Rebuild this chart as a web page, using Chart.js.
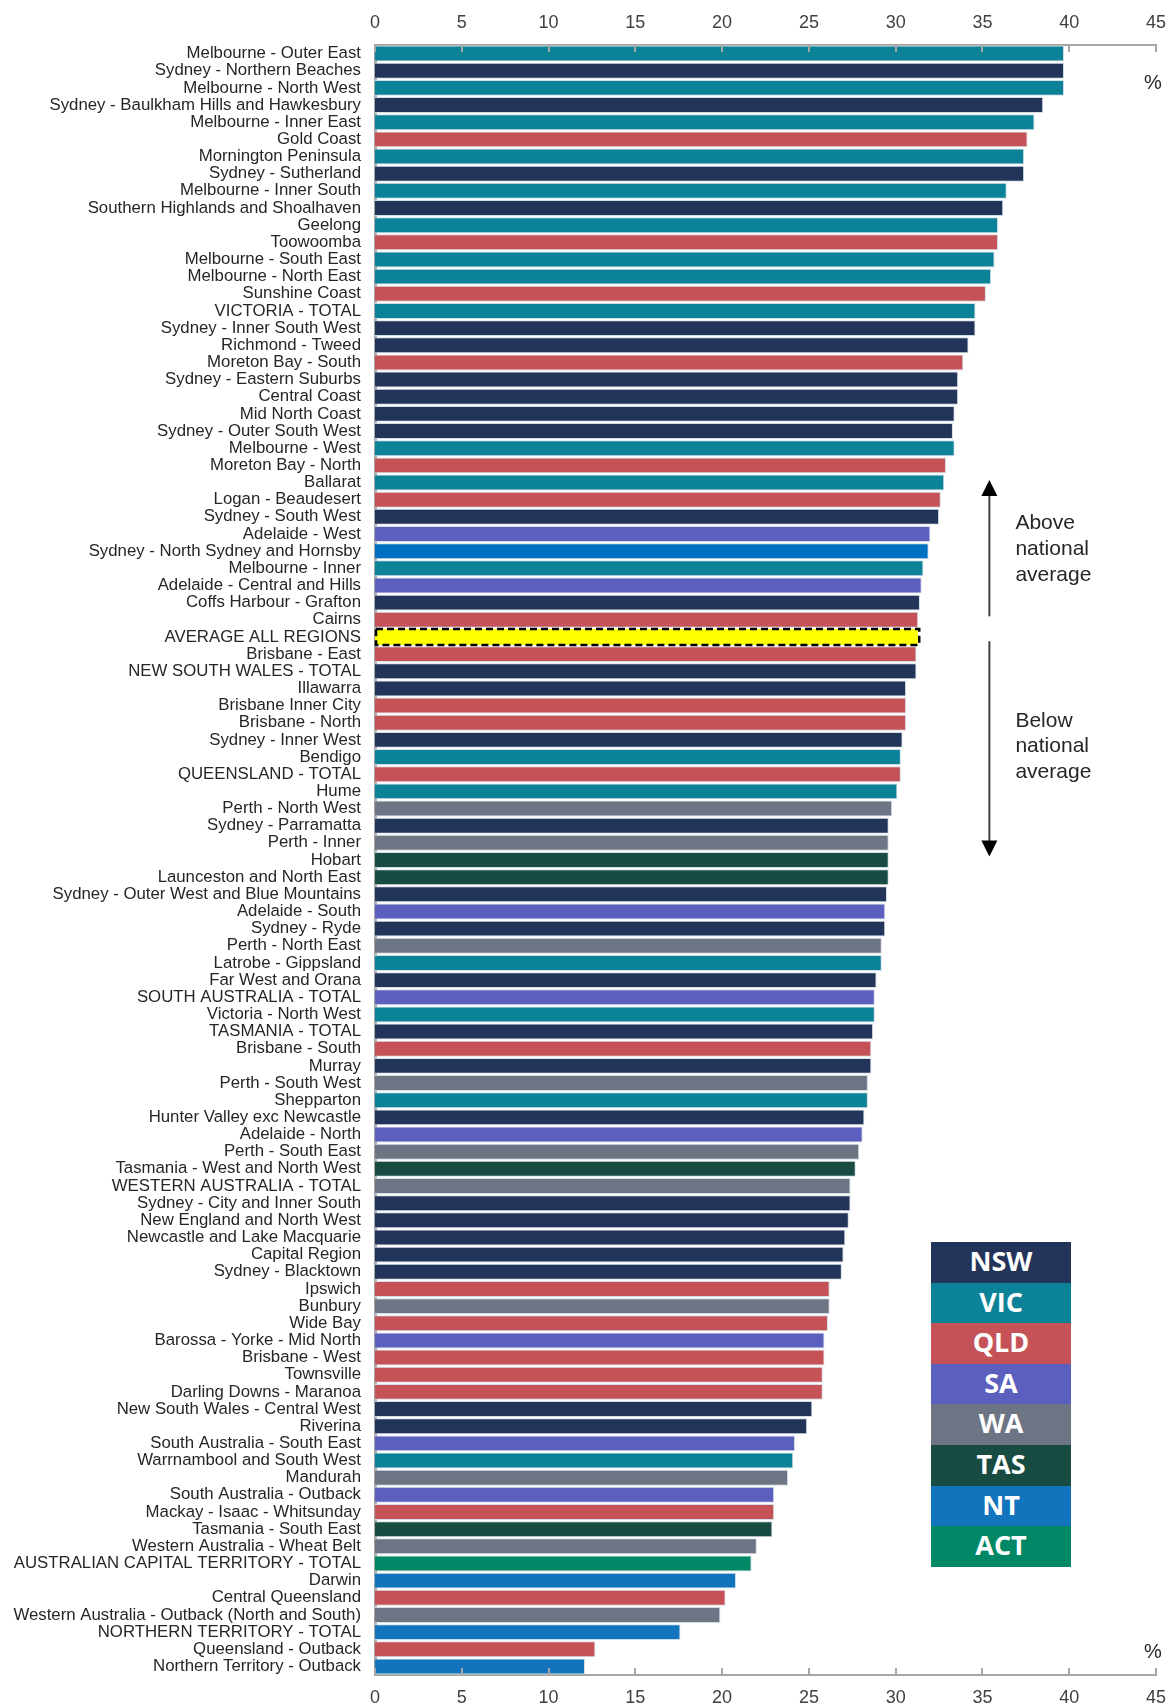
<!DOCTYPE html>
<html>
<head>
<meta charset="utf-8">
<script src="https://cdn.jsdelivr.net/npm/chart.js@4.4.1/dist/chart.umd.min.js"></script>
<style>
  html, body { margin: 0; padding: 0; background: #fff; }
  #wrap { position: relative; width: 1174px; height: 1706px; }
  #legend { position: absolute; left: 931px; top: 1242px; width: 140px; }
  .lg { height: 40.6px; line-height: 40.6px; text-align: center; color: #fff;
        font: bold 27px 'Open Sans', sans-serif; }
</style>
</head>
<body>
<div id="wrap">
  <canvas id="chart"></canvas>
  <div id="legend"></div>
</div>
<script>
// ---- data (%) ----
const regions = [
  'Melbourne - Outer East', 'Sydney - Northern Beaches', 'Melbourne - North West',
  'Sydney - Baulkham Hills and Hawkesbury', 'Melbourne - Inner East', 'Gold Coast',
  'Mornington Peninsula', 'Sydney - Sutherland', 'Melbourne - Inner South',
  'Southern Highlands and Shoalhaven', 'Geelong', 'Toowoomba', 'Melbourne - South East',
  'Melbourne - North East', 'Sunshine Coast', 'VICTORIA - TOTAL', 'Sydney - Inner South West',
  'Richmond - Tweed', 'Moreton Bay - South', 'Sydney - Eastern Suburbs', 'Central Coast',
  'Mid North Coast', 'Sydney - Outer South West', 'Melbourne - West', 'Moreton Bay - North',
  'Ballarat', 'Logan - Beaudesert', 'Sydney - South West', 'Adelaide - West',
  'Sydney - North Sydney and Hornsby', 'Melbourne - Inner', 'Adelaide - Central and Hills',
  'Coffs Harbour - Grafton', 'Cairns', 'AVERAGE ALL REGIONS', 'Brisbane - East',
  'NEW SOUTH WALES - TOTAL', 'Illawarra', 'Brisbane Inner City', 'Brisbane - North',
  'Sydney - Inner West', 'Bendigo', 'QUEENSLAND - TOTAL', 'Hume', 'Perth - North West',
  'Sydney - Parramatta', 'Perth - Inner', 'Hobart', 'Launceston and North East',
  'Sydney - Outer West and Blue Mountains', 'Adelaide - South', 'Sydney - Ryde',
  'Perth - North East', 'Latrobe - Gippsland', 'Far West and Orana', 'SOUTH AUSTRALIA - TOTAL',
  'Victoria - North West', 'TASMANIA - TOTAL', 'Brisbane - South', 'Murray',
  'Perth - South West', 'Shepparton', 'Hunter Valley exc Newcastle', 'Adelaide - North',
  'Perth - South East', 'Tasmania - West and North West', 'WESTERN AUSTRALIA - TOTAL',
  'Sydney - City and Inner South', 'New England and North West', 'Newcastle and Lake Macquarie',
  'Capital Region', 'Sydney - Blacktown', 'Ipswich', 'Bunbury', 'Wide Bay',
  'Barossa - Yorke - Mid North', 'Brisbane - West', 'Townsville', 'Darling Downs - Maranoa',
  'New South Wales - Central West', 'Riverina', 'South Australia - South East',
  'Warrnambool and South West', 'Mandurah', 'South Australia - Outback',
  'Mackay - Isaac - Whitsunday', 'Tasmania - South East', 'Western Australia - Wheat Belt',
  'AUSTRALIAN CAPITAL TERRITORY - TOTAL', 'Darwin', 'Central Queensland',
  'Western Australia - Outback (North and South)', 'NORTHERN TERRITORY - TOTAL',
  'Queensland - Outback', 'Northern Territory - Outback'
];

const values = [
  39.7, 39.7, 39.7, 38.5, 38.0, 37.6, 37.4, 37.4, 36.4, 36.2,
  35.9, 35.9, 35.7, 35.5, 35.2, 34.6, 34.6, 34.2, 33.9, 33.6,
  33.6, 33.4, 33.3, 33.4, 32.9, 32.8, 32.6, 32.5, 32.0, 31.9,
  31.6, 31.5, 31.4, 31.3, 31.3, 31.2, 31.2, 30.6, 30.6, 30.6,
  30.4, 30.3, 30.3, 30.1, 29.8, 29.6, 29.6, 29.6, 29.6, 29.5,
  29.4, 29.4, 29.2, 29.2, 28.9, 28.8, 28.8, 28.7, 28.6, 28.6,
  28.4, 28.4, 28.2, 28.1, 27.9, 27.7, 27.4, 27.4, 27.3, 27.1,
  27.0, 26.9, 26.2, 26.2, 26.1, 25.9, 25.9, 25.8, 25.8, 25.2,
  24.9, 24.2, 24.1, 23.8, 23.0, 23.0, 22.9, 22.0, 21.7, 20.8,
  20.2, 19.9, 17.6, 12.7, 12.1
];

const states = [
  'VIC', 'NSW', 'VIC', 'NSW', 'VIC', 'QLD', 'VIC', 'NSW', 'VIC', 'NSW',
  'VIC', 'QLD', 'VIC', 'VIC', 'QLD', 'VIC', 'NSW', 'NSW', 'QLD', 'NSW',
  'NSW', 'NSW', 'NSW', 'VIC', 'QLD', 'VIC', 'QLD', 'NSW', 'SA', 'BLUE',
  'VIC', 'SA', 'NSW', 'QLD', 'AVG', 'QLD', 'NSW', 'NSW', 'QLD', 'QLD',
  'NSW', 'VIC', 'QLD', 'VIC', 'WA', 'NSW', 'WA', 'TAS', 'TAS', 'NSW',
  'SA', 'NSW', 'WA', 'VIC', 'NSW', 'SA', 'VIC', 'NSW', 'QLD', 'NSW',
  'WA', 'VIC', 'NSW', 'SA', 'WA', 'TAS', 'WA', 'NSW', 'NSW', 'NSW',
  'NSW', 'NSW', 'QLD', 'WA', 'QLD', 'SA', 'QLD', 'QLD', 'QLD', 'NSW',
  'NSW', 'SA', 'VIC', 'WA', 'SA', 'QLD', 'TAS', 'WA', 'ACT', 'NT',
  'QLD', 'WA', 'NT', 'QLD', 'NT'
];

const legendStates = ['NSW', 'VIC', 'QLD', 'SA', 'WA', 'TAS', 'NT', 'ACT'];

const stateColours = {
  NSW: '#22345a', VIC: '#0c8298', QLD: '#c45257', SA: '#5b5fbd',
  WA: '#6d7585', TAS: '#184c42', NT: '#1174bd', ACT: '#008866',
  BLUE: '#0070c0', AVG: '#ffff00'
};

const xMin = 0, xMax = 45, xStep = 5;

const FONT = "'Liberation Sans', Arial, sans-serif";
const axisGrey = '#a6a6a6';
const avgIndex = regions.indexOf('AVERAGE ALL REGIONS');

// legend boxes
const legendEl = document.getElementById('legend');
legendStates.forEach(s => {
  const d = document.createElement('div');
  d.className = 'lg';
  d.style.background = stateColours[s];
  d.textContent = s;
  legendEl.appendChild(d);
});

// inward tick marks, dashed outline of the average bar, arrows and notes
const extras = {
  id: 'extras',
  afterDatasetsDraw(chart) {
    const { ctx, chartArea, scales } = chart;
    const x = scales.x, y = scales.y;
    ctx.save();

    ctx.strokeStyle = axisGrey;
    ctx.lineWidth = 2;
    for (let v = xMin; v <= xMax; v += xStep) {
      const px = Math.round(x.getPixelForValue(v));
      ctx.beginPath();
      ctx.moveTo(px, chartArea.top);
      ctx.lineTo(px, chartArea.top + 7);
      ctx.moveTo(px, chartArea.bottom);
      ctx.lineTo(px, chartArea.bottom - 7);
      ctx.stroke();
    }

    // average bar outline
    const bar = chart.getDatasetMeta(0).data[avgIndex];
    const h = bar.height;
    ctx.strokeStyle = '#000';
    ctx.lineWidth = 2.5;
    ctx.setLineDash([7, 4]);
    ctx.strokeRect(bar.base + 1, bar.y - h / 2, bar.x - bar.base, h);
    ctx.setLineDash([]);

    // arrows
    const ax = x.getPixelForValue(35.4);
    const arrow = (y0, y1) => {
      const dir = Math.sign(y1 - y0);
      ctx.strokeStyle = '#404040';
      ctx.lineWidth = 2;
      ctx.beginPath();
      ctx.moveTo(ax, y0);
      ctx.lineTo(ax, y1 - dir * 14);
      ctx.stroke();
      ctx.fillStyle = '#000';
      ctx.beginPath();
      ctx.moveTo(ax, y1);
      ctx.lineTo(ax - 8, y1 - dir * 16);
      ctx.lineTo(ax + 8, y1 - dir * 16);
      ctx.closePath();
      ctx.fill();
    };
    arrow(y.getPixelForValue(32.8), y.getPixelForValue(24.85));
    arrow(y.getPixelForValue(34.25), y.getPixelForValue(46.8));

    ctx.fillStyle = '#262626';
    ctx.font = '21px ' + FONT;
    ctx.textAlign = 'left';
    ctx.textBaseline = 'middle';
    const tx = x.getPixelForValue(36.9);
    ['Above', 'national', 'average'].forEach((t, i) => ctx.fillText(t, tx, 523 + i * 26));
    ['Below', 'national', 'average'].forEach((t, i) => ctx.fillText(t, tx, 721 + i * 25.5));

    ctx.font = '20px ' + FONT;
    ctx.textAlign = 'center';
    ctx.fillText('%', 1153, 83);
    ctx.fillText('%', 1153, 1652);
    ctx.restore();
  }
};

const valueAxis = (pos, height, pad) => ({
  position: pos,
  min: xMin,
  max: xMax,
  grid: { display: false },
  border: { display: true, color: axisGrey, width: 2 },
  ticks: { stepSize: xStep, color: '#404040', padding: pad, font: { family: FONT, size: 18 } },
  afterFit(s) { s.height = height; }
});

new Chart(document.getElementById('chart'), {
  type: 'bar',
  data: {
    labels: regions,
    datasets: [{
      data: values,
      xAxisID: 'x',
      backgroundColor: states.map(s => stateColours[s]),
      borderColor: states.map(s => s === 'AVG' ? stateColours.AVG : '#d3dde6'),
      borderWidth: 1,
      barPercentage: 0.93,
      categoryPercentage: 1
    }]
  },
  options: {
    indexAxis: 'y',
    responsive: true,
    maintainAspectRatio: false,
    animation: false,
    layout: { padding: { left: 0, right: 18, top: 0, bottom: 0 } },
    plugins: { legend: { display: false }, tooltip: { enabled: false } },
    scales: {
      x: valueAxis('top', 45, 3),
      x2: valueAxis('bottom', 31, 4),
      y: {
        grid: { display: false },
        border: { display: true, color: axisGrey, width: 3 },
        ticks: { autoSkip: false, color: '#262626', padding: 6, font: { family: FONT, size: 16.8 } },
        afterFit(s) { s.width = 375; }
      }
    }
  },
  plugins: [extras]
});
</script>
</body>
</html>
